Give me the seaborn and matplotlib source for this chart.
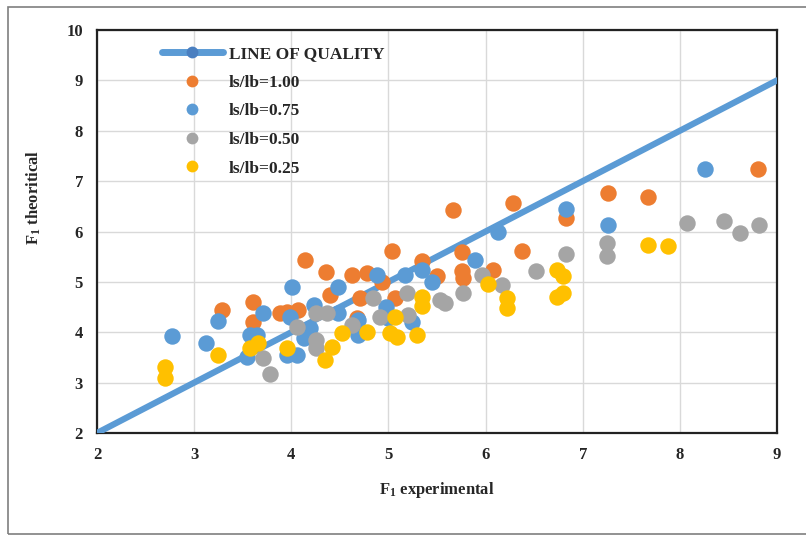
import matplotlib
matplotlib.use("Agg")
import matplotlib.pyplot as plt
from matplotlib.lines import Line2D
from matplotlib.patches import Rectangle
import seaborn as sns
import pandas as pd

# ---- data ----
quality_x = [2, 9]
quality_y = [2, 9]

r100_x = [3.29, 3.61, 3.61, 3.88, 3.96, 4.07, 4.14, 4.36, 4.40, 4.63, 4.78, 4.93, 5.04, 5.07,
          4.68, 4.71, 5.35, 5.50, 5.66, 5.76, 5.76, 5.77, 6.08, 6.28, 6.37, 6.83, 7.26, 7.67, 8.80]
r100_y = [4.44, 4.60, 4.20, 4.38, 4.40, 4.44, 5.43, 5.19, 4.74, 5.13, 5.17, 5.00, 5.61, 4.68,
          4.28, 4.68, 5.41, 5.11, 6.42, 5.59, 5.21, 5.07, 5.23, 6.56, 5.61, 6.27, 6.76, 6.68, 7.24]

r075_x = [2.77, 3.12, 3.25, 3.71, 3.57, 3.65, 3.54, 4.01, 3.99, 3.96, 4.06, 4.19, 4.13, 4.23,
          4.48, 4.48, 4.69, 4.69, 4.88, 4.98, 5.00, 5.24, 5.17, 5.35, 5.45, 5.89, 6.13, 6.83,
          7.26, 8.26]
r075_y = [3.92, 3.79, 4.22, 4.38, 3.94, 3.94, 3.51, 4.90, 4.30, 3.55, 3.55, 4.08, 3.88, 4.54,
          4.90, 4.38, 4.24, 3.94, 5.13, 4.50, 4.28, 4.20, 5.13, 5.23, 5.00, 5.43, 5.99, 6.44,
          6.13, 7.24]

r050_x = [3.71, 3.78, 4.06, 4.25, 4.25, 4.25, 4.37, 4.62, 4.84, 4.91, 5.19, 5.20, 5.53, 5.58,
          5.77, 5.96, 6.17, 6.52, 6.83, 7.25, 7.25, 8.07, 8.45, 8.62, 8.81]
r050_y = [3.49, 3.17, 4.10, 3.85, 3.69, 4.38, 4.38, 4.14, 4.68, 4.30, 4.78, 4.34, 4.64, 4.58,
          4.78, 5.13, 4.94, 5.21, 5.55, 5.77, 5.51, 6.17, 6.21, 5.97, 6.13]

r025_x = [2.70, 2.70, 3.25, 3.58, 3.66, 3.96, 4.35, 4.42, 4.52, 4.78, 5.02, 5.09, 5.07, 5.29,
          5.35, 5.35, 6.02, 6.22, 6.22, 6.74, 6.80, 6.74, 6.80, 7.67, 7.88]
r025_y = [3.31, 3.09, 3.55, 3.69, 3.79, 3.69, 3.45, 3.71, 3.98, 4.00, 3.98, 3.90, 4.30, 3.94,
          4.70, 4.52, 4.96, 4.68, 4.48, 5.23, 5.11, 4.70, 4.78, 5.73, 5.71]

series_labels = ["ls/lb=1.00", "ls/lb=0.75", "ls/lb=0.50", "ls/lb=0.25"]
series_colors = ["#ED7D31", "#5B9BD5", "#A5A5A5", "#FFC000"]
line_label = "LINE OF QUALITY"
line_color = "#5B9BD5"
x_ticks = [2, 3, 4, 5, 6, 7, 8, 9]
y_ticks = [2, 3, 4, 5, 6, 7, 8, 9, 10]

# ---- styling ----
sns.set_style("white")
plt.rcParams["font.family"] = ["Liberation Serif", "DejaVu Serif"]
plt.rcParams["font.weight"] = "bold"
plt.rcParams["mathtext.fontset"] = "custom"
plt.rcParams["mathtext.rm"] = "Liberation Serif:bold"
plt.rcParams["mathtext.it"] = "Liberation Serif:bold"
plt.rcParams["mathtext.bf"] = "Liberation Serif:bold"

fig = plt.figure(figsize=(8.06, 5.36), dpi=100)
ax = fig.add_axes([97 / 806, 1 - 433 / 536, 680 / 806, 403 / 536])

# outer border of the picture (right side runs off the image)
fig.patches.append(Rectangle((8 / 806, 1 - 534 / 536), 810 / 806, 527 / 536,
                             transform=fig.transFigure, fill=False,
                             edgecolor="#7f7f7f", linewidth=1.2))

df_line = pd.DataFrame({"x": quality_x, "y": quality_y})
sns.lineplot(data=df_line, x="x", y="y", color=line_color, linewidth=4.5, ax=ax,
             zorder=3, legend=False)

all_series = [(r100_x, r100_y), (r075_x, r075_y), (r050_x, r050_y), (r025_x, r025_y)]
for i, ((xs, ys), lab, col) in enumerate(zip(all_series, series_labels, series_colors)):
    d = pd.DataFrame({"x": xs, "y": ys})
    sns.scatterplot(data=d, x="x", y="y", color=col, s=140, linewidth=0, ax=ax,
                    zorder=4 + i, legend=False)

ax.set_xlim(2, 9)
ax.set_ylim(2, 10)
ax.set_xticks(x_ticks)
ax.set_yticks(y_ticks)
ax.set_xticklabels([str(t) for t in x_ticks], fontsize=12, fontweight="bold")
ax.set_yticklabels([str(t) for t in y_ticks], fontsize=12, fontweight="bold")
ax.tick_params(axis="both", length=0, pad=10)
ax.grid(True, color="#D9D9D9", linewidth=1.0)
ax.set_axisbelow(True)
for sp in ax.spines.values():
    sp.set_color("#222222")
    sp.set_linewidth(1.6)

ax.set_xlabel(r"F$_\mathrm{1}$ experimental", fontsize=12, fontweight="bold", labelpad=12)
ax.set_ylabel(r"F$_\mathrm{1}$ theoritical", fontsize=12, fontweight="bold")
ax.yaxis.set_label_coords(-0.079, 0.585)

handles = [Line2D([0], [0], color=line_color, linewidth=5, marker="o",
                  markersize=8.5, markerfacecolor="#4A7FC0", markeredgewidth=0)]
for col in series_colors:
    handles.append(Line2D([0], [0], linestyle="none", marker="o", markersize=8.5,
                          markerfacecolor=col, markeredgewidth=0))
leg = ax.legend(handles, [line_label] + series_labels, loc="upper left",
                bbox_to_anchor=(0.085, 0.978), borderaxespad=0, frameon=False,
                handlelength=3.5, handletextpad=0.35, labelspacing=0.72,
                prop={"family": "Liberation Serif", "weight": "bold", "size": 12.5})

fig.savefig("out.png", dpi=100)
